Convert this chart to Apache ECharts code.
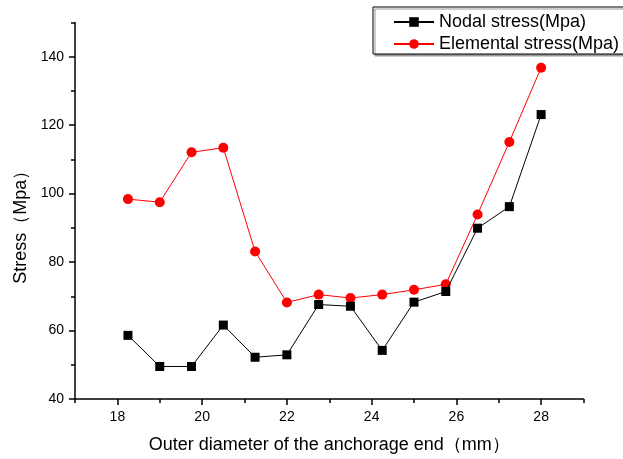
<!DOCTYPE html>
<html lang="en">
<head>
    <meta charset="utf-8">
    <title>ECharts</title>
    <script src="https://cdn.jsdelivr.net/npm/echarts@6/dist/echarts.min.js"></script>
    <style>
        html, body { margin: 0; padding: 0; background: #fff; }
    </style>
</head>
<body>
<div id="main" style="width: 623px;height:459px;"></div>
<script type="text/javascript">
    var diameters = [18.25, 19, 19.75, 20.5, 21.25, 22, 22.75, 23.5, 24.25, 25, 25.75, 26.5, 27.25, 28];
    var nodalStress = [58.6, 49.5, 49.5, 61.6, 52.2, 52.9, 67.6, 67.1, 54.2, 68.3, 71.4, 89.9, 96.2, 123.1];
    var elementalStress = [98.4, 97.5, 112.1, 113.4, 83.1, 68.2, 70.5, 69.5, 70.5, 71.9, 73.5, 93.9, 115.1, 136.8];
    var xMajorTicks = [18, 20, 22, 24, 26, 28];
    var xMinorTicks = [17, 19, 21, 23, 25, 27, 29];
    var yMajorTicks = [40, 60, 80, 100, 120, 140];
    var yMinorTicks = [50, 70, 90, 110, 130, 150];

    var myChart = echarts.init(document.getElementById('main'));

    function pairs(ys) {
        return diameters.map(function (x, i) { return [x, ys[i]]; });
    }

    var font = 'Liberation Sans, Arial, sans-serif';
    var axisLine = { show: true, lineStyle: { color: '#000', width: 1.5 } };

    option = {
        animation: false,
        backgroundColor: '#fff',
        textStyle: { fontFamily: font },
        grid: { left: 75, right: 39.5, top: 22.5, bottom: 58 },
        legend: {
            orient: 'vertical',
            left: 373,
            top: 7,
            padding: [6, 30, 1, 20],
            itemGap: 4,
            itemWidth: 40,
            itemHeight: 12,
            borderColor: '#000',
            borderWidth: 1,
            backgroundColor: '#fff',
            shadowColor: '#999',
            shadowOffsetX: 2,
            shadowOffsetY: 2,
            shadowBlur: 0,
            textStyle: { fontSize: 18, color: '#000', fontFamily: font },
            data: ['Nodal stress(Mpa)', 'Elemental stress(Mpa)']
        },
        xAxis: [{
            type: 'value',
            min: 17,
            max: 29,
            name: 'Outer diameter of the anchorage end（mm）',
            nameLocation: 'middle',
            nameGap: 37,
            nameTextStyle: { fontSize: 18, color: '#000', fontFamily: font },
            axisLine: axisLine,
            axisTick: { show: true, inside: false, length: 6, customValues: xMajorTicks, lineStyle: { color: '#000', width: 1.5 } },
            axisLabel: { fontSize: 14, color: '#000', margin: 11, customValues: xMajorTicks },
            splitLine: { show: false }
        }, {
            type: 'value',
            min: 17,
            max: 29,
            position: 'bottom',
            axisLine: { show: false },
            axisTick: { show: true, inside: false, length: 4, customValues: xMinorTicks, lineStyle: { color: '#000', width: 1.5 } },
            axisLabel: { show: false },
            splitLine: { show: false }
        }],
        yAxis: [{
            type: 'value',
            min: 40,
            max: 150,
            name: 'Stress（Mpa）',
            nameLocation: 'middle',
            nameRotate: 90,
            nameGap: 44,
            nameTextStyle: { fontSize: 18, color: '#000', fontFamily: font, padding: [0, 24, 0, 0] },
            axisLine: axisLine,
            axisTick: { show: true, inside: false, length: 6, customValues: yMajorTicks, lineStyle: { color: '#000', width: 1.5 } },
            axisLabel: { fontSize: 14, color: '#000', margin: 11, customValues: yMajorTicks },
            splitLine: { show: false }
        }, {
            type: 'value',
            min: 40,
            max: 150,
            position: 'left',
            axisLine: { show: false },
            axisTick: { show: true, inside: false, length: 4, customValues: yMinorTicks, lineStyle: { color: '#000', width: 1.5 } },
            axisLabel: { show: false },
            splitLine: { show: false }
        }],
        series: [{
            name: 'Nodal stress(Mpa)',
            type: 'line',
            xAxisIndex: 0,
            yAxisIndex: 0,
            data: pairs(nodalStress),
            symbol: 'rect',
            symbolSize: 9,
            itemStyle: { color: '#000' },
            lineStyle: { color: '#000', width: 1 },
            z: 3
        }, {
            name: 'Elemental stress(Mpa)',
            type: 'line',
            xAxisIndex: 0,
            yAxisIndex: 0,
            data: pairs(elementalStress),
            symbol: 'circle',
            symbolSize: 10,
            itemStyle: { color: '#ff0000' },
            lineStyle: { color: '#ff0000', width: 1 },
            z: 2
        }]
    };

    myChart.setOption(option);
</script>
</body>
</html>
